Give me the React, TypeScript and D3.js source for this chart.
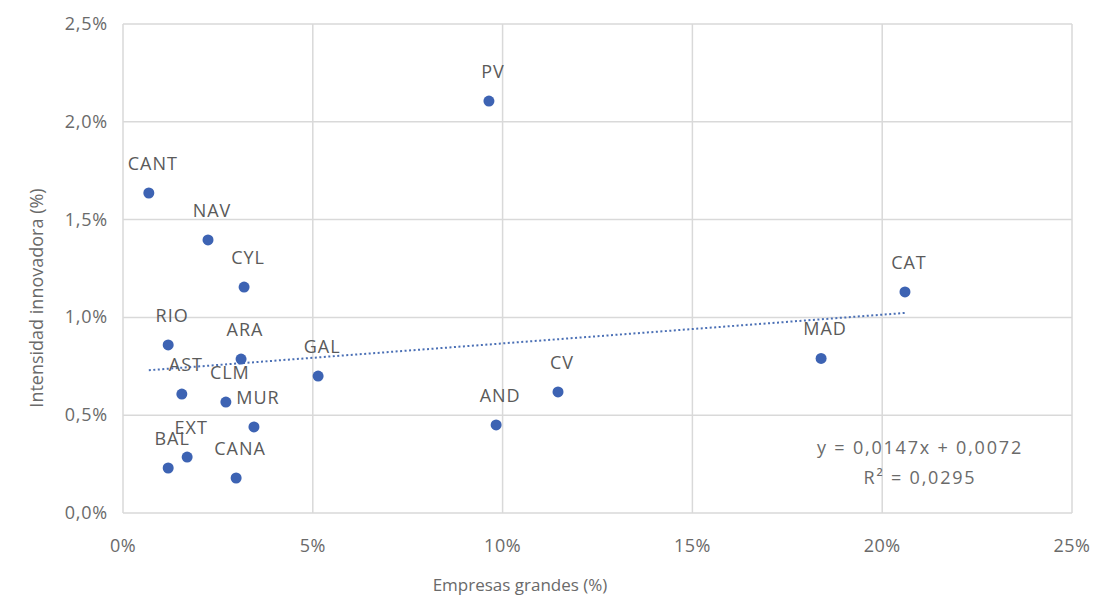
import React from "react";
import * as d3 from "d3";

const regions = ["PV","CANT","NAV","CYL","CAT","RIO","ARA","GAL","AST","CLM","MUR","AND","CV","MAD","BAL","EXT","CANA"];
const largeFirms = [9.64,0.68,2.24,3.19,20.6,1.19,3.11,5.14,1.55,2.71,3.45,9.83,11.46,18.39,1.19,1.69,2.98];
const innovation = [2.106,1.636,1.396,1.155,1.13,0.859,0.787,0.70,0.608,0.567,0.44,0.45,0.619,0.79,0.23,0.286,0.179];
const xTicks = [0,5,10,15,20,25];
const yTicks = [0,0.5,1.0,1.5,2.0,2.5];
const slope = 0.0147;
const intercept = 0.0072;
const eqText = "y = 0,0147x + 0,0072";
const r2Text = "R² = 0,0295";

export default function App() {
  const W = 1096, H = 600;
  const x = d3.scaleLinear().domain([0, 25]).range([123, 1072]);
  const y = d3.scaleLinear().domain([0, 2.5]).range([513, 24]);
  const fmt = (v: number) => v.toFixed(1).replace(".", ",") + "%";
  const xmin = d3.min(largeFirms)!;
  const xmax = d3.max(largeFirms)!;
  const trend = (v: number) => (slope * (v / 100) + intercept) * 100;
  const font = "'Open Sans', 'Noto Sans', sans-serif";
  const grey = "#6a6a6a";
  return (
    <svg width={W} height={H} style={{ position: "absolute", left: 0, top: 0 }} fontFamily={font}>
      <rect width={W} height={H} fill="#fff" />
      {xTicks.map((t) => (
        <line key={"gx" + t} x1={x(t)} x2={x(t)} y1={y(2.5)} y2={y(0)} stroke="#d9d9d9" strokeWidth={1.5} />
      ))}
      {yTicks.map((t) => (
        <line key={"gy" + t} x1={x(0)} x2={x(25)} y1={y(t)} y2={y(t)} stroke="#d9d9d9" strokeWidth={1.5} />
      ))}
      {xTicks.map((t) => (
        <text key={"tx" + t} x={x(t)} y={552} textAnchor="middle" fontSize={18} letterSpacing={0.5} fill={grey}>{t + "%"}</text>
      ))}
      {yTicks.map((t) => (
        <text key={"ty" + t} x={108} y={y(t) + 6} textAnchor="end" fontSize={18} letterSpacing={0.8} fill={grey}>{fmt(t)}</text>
      ))}
      <line x1={x(xmin)} x2={x(xmax)} y1={y(trend(xmin))} y2={y(trend(xmax))} stroke="#4a6fb5" strokeWidth={2} strokeDasharray="2,2.5" />
      {regions.map((r, i) => (
        <circle key={"c" + r} cx={x(largeFirms[i])} cy={y(innovation[i])} r={5.5} fill="#3d63b3" />
      ))}
      {regions.map((r, i) => (
        <text key={"l" + r} x={x(largeFirms[i]) + 4} y={y(innovation[i]) - 23} textAnchor="middle" fontSize={18} letterSpacing={1} fill="#5a5a5a">{r}</text>
      ))}
      <text x={920} y={454} textAnchor="middle" fontSize={18} letterSpacing={1.8} fill={grey}>{eqText}</text>
      <text x={920} y={484} textAnchor="middle" fontSize={18} letterSpacing={1.8} fill={grey}>{r2Text}</text>
      <text x={520} y={591} textAnchor="middle" fontSize={17} fill={grey}>Empresas grandes (%)</text>
      <text transform={`translate(43, ${298}) rotate(-90)`} textAnchor="middle" fontSize={18} fill={grey}>Intensidad innovadora (%)</text>
    </svg>
  );
}
